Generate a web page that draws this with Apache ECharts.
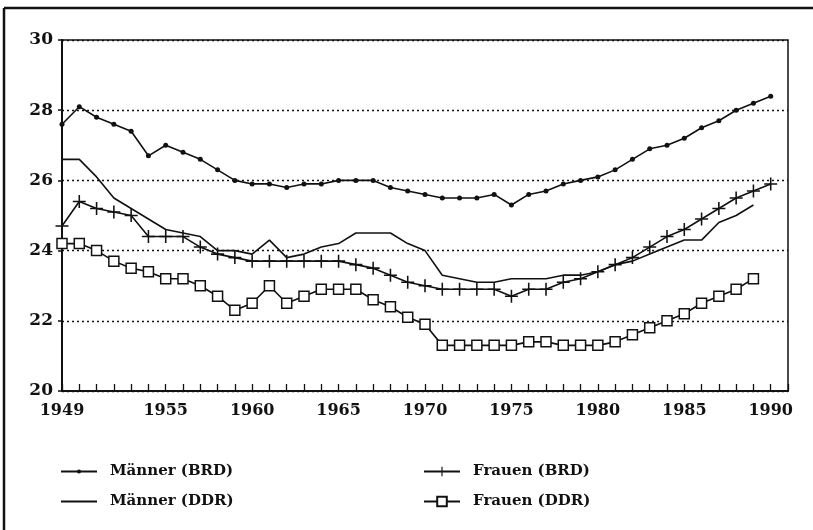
<!DOCTYPE html>
<html><head><meta charset="utf-8">
<script src="https://cdn.jsdelivr.net/npm/echarts@6/dist/echarts.min.js"></script>
<style>html,body{margin:0;padding:0;background:#fff}#c{width:813px;height:530px}</style>
</head><body><div id="c"></div>
<script>
const years = [1949,1950,1951,1952,1953,1954,1955,1956,1957,1958,1959,1960,1961,1962,1963,1964,1965,1966,1967,1968,1969,1970,1971,1972,1973,1974,1975,1976,1977,1978,1979,1980,1981,1982,1983,1984,1985,1986,1987,1988,1989,1990];
const maennerBRD = [27.6,28.1,27.8,27.6,27.4,26.7,27.0,26.8,26.6,26.3,26.0,25.9,25.9,25.8,25.9,25.9,26.0,26.0,26.0,25.8,25.7,25.6,25.5,25.5,25.5,25.6,25.3,25.6,25.7,25.9,26.0,26.1,26.3,26.6,26.9,27.0,27.2,27.5,27.7,28.0,28.2,28.4];
const maennerDDR = [26.6,26.6,26.1,25.5,25.2,24.9,24.6,24.5,24.4,24.0,24.0,23.9,24.3,23.8,23.9,24.1,24.2,24.5,24.5,24.5,24.2,24.0,23.3,23.2,23.1,23.1,23.2,23.2,23.2,23.3,23.3,23.4,23.6,23.7,23.9,24.1,24.3,24.3,24.8,25.0,25.3];
const frauenBRD = [24.7,25.4,25.2,25.1,25.0,24.4,24.4,24.4,24.1,23.9,23.8,23.7,23.7,23.7,23.7,23.7,23.7,23.6,23.5,23.3,23.1,23.0,22.9,22.9,22.9,22.9,22.7,22.9,22.9,23.1,23.2,23.4,23.6,23.8,24.1,24.4,24.6,24.9,25.2,25.5,25.7,25.9];
const frauenDDR = [24.2,24.2,24.0,23.7,23.5,23.4,23.2,23.2,23.0,22.7,22.3,22.5,23.0,22.5,22.7,22.9,22.9,22.9,22.6,22.4,22.1,21.9,21.3,21.3,21.3,21.3,21.3,21.4,21.4,21.3,21.3,21.3,21.4,21.6,21.8,22.0,22.2,22.5,22.7,22.9,23.2];
const seriesNames = ['Männer (BRD)','Männer (DDR)','Frauen (BRD)','Frauen (DDR)'];
const xLabelYears = [1949,1955,1960,1965,1970,1975,1980,1985,1990];

const pairs = vals => vals.map((v,i) => [years[i], v]);
const INK = '#111';
const FONT = 'DejaVu Serif';
const plusPath = 'path://M44,0 H56 V44 H100 V56 H56 V100 H44 V56 H0 V44 H44 Z';
const legendText = {color: INK, fontFamily: FONT, fontWeight: 'bold', fontSize: 15, padding: [0,0,0,8]};

const chart = echarts.init(document.getElementById('c'), null, {renderer:'canvas'});
chart.setOption({
  animation: false,
  backgroundColor: '#fff',
  grid: {left: 62, right: 25, top: 40, bottom: 139, show: true, borderColor: INK, borderWidth: 1.5, backgroundColor: 'transparent'},
  xAxis: {
    type: 'value', min: 1949, max: 1991, interval: 1,
    axisLine: {show: true, lineStyle: {color: INK, width: 2}},
    axisTick: {show: true, inside: true, length: 7, lineStyle: {color: INK, width: 1.3}},
    splitLine: {show: false},
    axisLabel: {
      margin: 12, color: INK, fontFamily: FONT, fontWeight: 'bold', fontSize: 16,
      formatter: v => xLabelYears.indexOf(v) >= 0 ? String(v) : ''
    }
  },
  yAxis: {
    type: 'value', min: 20, max: 30, interval: 2,
    axisLine: {show: true, lineStyle: {color: INK, width: 2}},
    axisTick: {show: true, inside: false, length: 4, lineStyle: {color: INK, width: 1.5}},
    splitLine: {show: true, lineStyle: {color: INK, width: 1.3, type: [2, 3]}},
    axisLabel: {margin: 9, color: INK, fontFamily: FONT, fontWeight: 'bold', fontSize: 17}
  },
  legend: [
    {
      data: [seriesNames[0]], orient: 'vertical', left: 55, top: 459,
      itemWidth: 36, itemHeight: 5, textStyle: legendText
    },
    {
      data: [{name: seriesNames[1], itemStyle: {opacity: 0}}], orient: 'vertical', left: 55, top: 489,
      itemWidth: 36, itemHeight: 5, textStyle: legendText
    },
    {
      data: [seriesNames[2]], orient: 'vertical', left: 418, top: 459,
      itemWidth: 36, itemHeight: 12, textStyle: legendText
    },
    {
      data: [seriesNames[3]], orient: 'vertical', left: 418, top: 489,
      itemWidth: 36, itemHeight: 12, textStyle: legendText
    }
  ],
  graphic: [
    {type: 'line', shape: {x1: 4, y1: 8, x2: 4, y2: 530}, style: {stroke: INK, lineWidth: 2.5}, silent: true},
    {type: 'line', shape: {x1: 4, y1: 8, x2: 813, y2: 8}, style: {stroke: INK, lineWidth: 2.5}, silent: true}
  ],
  series: [
    {
      name: seriesNames[0], type: 'line', data: pairs(maennerBRD),
      symbol: 'circle', symbolSize: 5, showSymbol: true,
      lineStyle: {color: INK, width: 1.6}, itemStyle: {color: INK}
    },
    {
      name: seriesNames[1], type: 'line', data: pairs(maennerDDR),
      symbol: 'none', showSymbol: false,
      lineStyle: {color: INK, width: 1.6}, itemStyle: {color: INK}
    },
    {
      name: seriesNames[2], type: 'line', data: pairs(frauenBRD),
      symbol: plusPath, symbolSize: 13, showSymbol: true,
      lineStyle: {color: INK, width: 1.6}, itemStyle: {color: INK}
    },
    {
      name: seriesNames[3], type: 'line', data: pairs(frauenDDR),
      symbol: 'rect', symbolSize: 10, showSymbol: true,
      lineStyle: {color: INK, width: 1.6}, itemStyle: {color: '#fff', borderColor: INK, borderWidth: 1.5}
    }
  ]
});
</script></body></html>
